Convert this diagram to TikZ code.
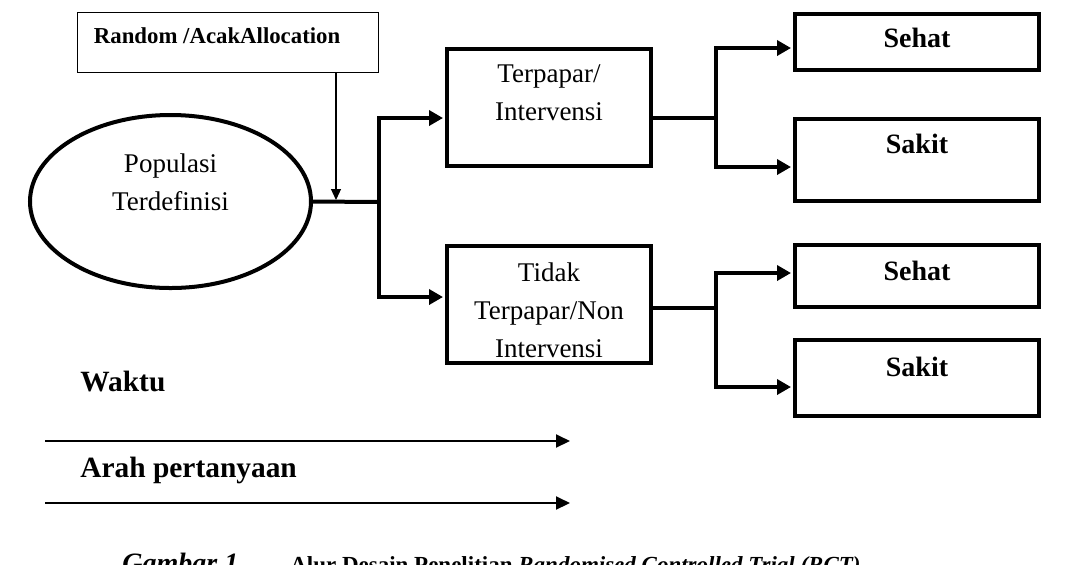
\documentclass[tikz,border=0pt]{standalone}
\usepackage{fontspec}
\setmainfont{Liberation Serif}
\usetikzlibrary{arrows.meta,shapes.geometric}

\begin{document}
\begin{tikzpicture}[x=0.5pt,y=-0.5pt,
        box/.style={draw, line width=2pt},
        txt/.style={font=\fontsize{13.5}{19}\selectfont, align=center, inner sep=0pt},
        btxt/.style={font=\fontsize{14}{17}\selectfont\bfseries, inner sep=0pt},
        fat/.style={line width=2pt},
        fatarrow/.style={line width=2pt, -{Triangle[length=7pt,width=7.5pt]}, shorten >=1pt}]
        \useasboundingbox (0,0) rectangle (1076,564);
        \clip (0,0) rectangle (1076,564);

        \node (rand) at (227.5,42) [draw, line width=0.5pt, minimum width=150.5pt, minimum height=30pt,
            label={[btxt, font=\fontsize{11.4}{13}\selectfont\bfseries, anchor=north west, xshift=8.5pt, yshift=-8pt]north west:Random /AcakAllocation}] {};
        \node (pop) at (170.5,201.5) [ellipse, box, minimum width=140.5pt, minimum height=86.5pt,
            label={[txt, yshift=9.5pt]center:{Populasi\\Terdefinisi}}] {};

        \node (t1) at (549,107.5) [box, minimum width=102pt, minimum height=58.5pt,
            label={[txt, anchor=north, yshift=-8.5pt]north:{Terpapar/\\Intervensi}}] {};
        \node (t2) at (549,304.5) [box, minimum width=102pt, minimum height=58.5pt,
            label={[txt, anchor=north, yshift=-9pt]north:{Tidak\\Terpapar/Non\\Intervensi}}] {};

        \node (h1) at (917,42) [box, minimum width=122pt, minimum height=28pt,
            label={[btxt, anchor=north, yshift=-8pt]north:Sehat}] {};
        \node (k1) at (917,160) [box, minimum width=122pt, minimum height=41pt,
            label={[btxt, anchor=north, yshift=-8.5pt]north:Sakit}] {};
        \node (h2) at (917,276) [box, minimum width=122pt, minimum height=31pt,
            label={[btxt, anchor=north, yshift=-9pt]north:Sehat}] {};
        \node (k2) at (917,378) [box, minimum width=122pt, minimum height=38pt,
            label={[btxt, anchor=north, yshift=-9.5pt]north:Sakit}] {};

        % splitting points
        \coordinate (c0) at (336,202);
        \coordinate (c1) at (379,202);
        \coordinate (c2) at (716,118);
        \coordinate (c3) at (716,308);

        \draw[line width=0.6pt, -{Triangle[length=5.5pt,width=5pt]}, shorten >=1pt] (rand.south -| c0) -- (c0);
        \draw[fat] (pop.east) -- (c1);
        \draw[fatarrow] (c1) |- ([yshift=-5.25pt]t1.west);
        \draw[fatarrow] (c1) |- ([yshift=3.75pt]t2.west);

        \draw[fat] ([yshift=-5.25pt]t1.east) -- (c2);
        \draw[fatarrow] (c2) |- ([yshift=-3pt]h1.west);
        \draw[fatarrow] (c2) |- ([yshift=-3.5pt]k1.west);
        \draw[fat] ([yshift=-1.75pt]t2.east) -- (c3);
        \draw[fatarrow] (c3) |- ([yshift=1.5pt]h2.west);
        \draw[fatarrow] (c3) |- ([yshift=-4.5pt]k2.west);

        % time axis
        \node (waktu) at (80,391) [btxt, font=\fontsize{14.7}{17}\selectfont\bfseries, anchor=base west] {Waktu};
        \node (arah) at (80,477) [btxt, font=\fontsize{14.7}{17}\selectfont\bfseries, anchor=base west] {Arah pertanyaan};
        \coordinate (w1) at (45,441);
        \coordinate (w2) at (570,441);
        \coordinate (a1) at (45,503);
        \coordinate (a2) at (570,503);
        \draw[line width=1pt, -{Triangle[length=7pt,width=6.5pt]}] (w1) -- (w2);
        \draw[line width=1pt, -{Triangle[length=7pt,width=6.5pt]}] (a1) -- (a2);

        \node (cap) at (122,572) [anchor=base west, inner sep=0pt]
            {\fontsize{14}{16}\selectfont\bfseries\itshape Gambar 1\hspace{26pt}\fontsize{11.5}{14}\selectfont\upshape Alur Desain Penelitian \itshape Randomised Controlled Trial (RCT)};
        \end{tikzpicture}
\end{document}
